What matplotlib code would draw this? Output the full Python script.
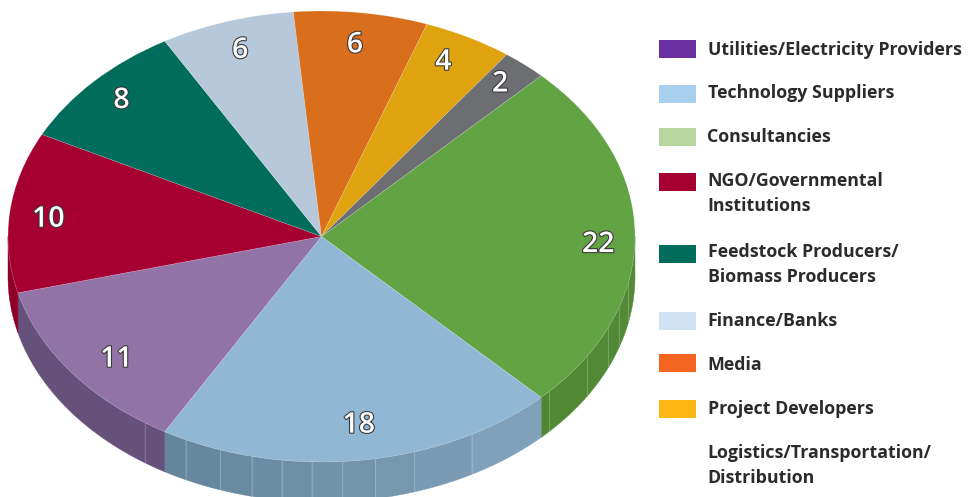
import numpy as np
import matplotlib
matplotlib.use('Agg')
import matplotlib.pyplot as plt
import matplotlib.patheffects as pe
from matplotlib.patches import Rectangle

# slices, clockwise from the big green one
slice_values = [22, 18, 11, 10, 8, 6, 6, 4, 2]
slice_colors = ['#62a344', '#90b8d4', '#9273a6', '#a60033', '#006c5b',
                '#b6c8da', '#d96e1c', '#dfa310', '#6d6e71']
# wall shade at the left / right end of each slice's side
wall_left = ['#4f8733', '#64849a', '#65517a', '#8e0027', '#004f43',
             '#8a98a6', '#a55415', '#a97c0c', '#525355']
wall_right = ['#558b39', '#84a5be', '#65517a', '#8e0027', '#004f43',
              '#8a98a6', '#a55415', '#a97c0c', '#525355']
# light seams on the side wall, degrees on the ellipse
wall_seams = [-124.3, -115.7, -108.8, -102.9, -97.3, -91.8, -86.2, -80.1,
              -72.8, -61.4, -43.4, -32.1, -23.9, -18.4, -12.0]
# hand placement of the numbers, in pixels (right, down)
number_nudge = [(4, 8), (3, -6), (12, 4), (-2, 4), (-2, -1), (1, 1), (-1, 3), (-6, -1), (2, -3)]

legend_labels = ['Utilities/Electricity Providers', 'Technology Suppliers', 'Consultancies',
                 'NGO/Governmental\nInstitutions', 'Feedstock Producers/\nBiomass Producers',
                 'Finance/Banks', 'Media', 'Project Developers',
                 'Logistics/Transportation/\nDistribution']
legend_colors = ['#6a2fa0', '#a6d0ee', '#b6d69e', '#a60033', '#006c5b',
                 '#d0e2f3', '#f56522', '#fdb714', None]
legend_text_y = [50, 93, 137, 193.5, 264.5, 321, 365, 409, 465.5]
legend_box_y = [49, 94, 137, 182, 254, 321, 363, 409, None]

start_angle = 45.5
wall_depth = 40 / 225.5

W, H = 968, 497
fig = plt.figure(figsize=(W / 100, H / 100), dpi=100)
plt.rcParams['font.family'] = ['Open Sans', 'DejaVu Sans']

# pie axes stretched so the circle comes out as the flattened ellipse
ax = fig.add_axes([8 / W, (H - 462) / H, 627 / W, 451 / H])
wedges, _, numbers = ax.pie(
    slice_values, startangle=start_angle, counterclock=False, colors=slice_colors,
    autopct=lambda p: f'{p * sum(slice_values) / 100:.0f}', pctdistance=0.87,
    wedgeprops={'edgecolor': (1, 1, 1, 0.2), 'linewidth': 0.5, 'zorder': 3},
)
ax.set_aspect('auto')
ax.set_xlim(-1, 1)
ax.set_ylim(-1, 1)

for t, (dx, dy) in zip(numbers, number_nudge):
    x, y = t.get_position()
    t.set_position((x + dx / 313.5, y - dy / 225.5))
    t.set(color='white', fontsize=20.5, fontweight='semibold', zorder=5)
    t.set_path_effects([pe.withStroke(linewidth=1.6, foreground='#3a3a3c')])


def blend(c1, c2, f):
    a, b = np.array(matplotlib.colors.to_rgb(c1)), np.array(matplotlib.colors.to_rgb(c2))
    return a + (b - a) * f


# side wall, only the lower half of the ellipse shows
for w, cl, cr in zip(wedges, wall_left, wall_right):
    lo, hi = w.theta1 % 360, w.theta2 % 360
    if hi <= lo:
        hi += 360
    lo, hi = max(lo, 180), min(hi, 360)
    if hi <= lo:
        continue
    cuts = [lo] + [s + 360 for s in wall_seams if lo < s + 360 < hi] + [hi]
    for a, b in zip(cuts[:-1], cuts[1:]):
        th = np.radians(np.linspace(a, b, 30))
        x = np.cos(th)
        y = np.sin(th)
        col = blend(cl, cr, ((a + b) / 2 - lo) / (hi - lo))
        ax.fill(np.r_[x, x[::-1]], np.r_[y, y[::-1] - wall_depth], color=col,
                lw=0.3, zorder=1, clip_on=False)

for s in wall_seams:
    th = np.radians(s)
    ax.plot([np.cos(th)] * 2, [np.sin(th), np.sin(th) - wall_depth],
            color=(1, 1, 1, 0.18), lw=0.8, zorder=2, clip_on=False)

# legend in pixel coordinates
lax = fig.add_axes([0, 0, 1, 1])
lax.set_xlim(0, W)
lax.set_ylim(H, 0)
lax.axis('off')
lax.patch.set_alpha(0)
for label, col, ty, by in zip(legend_labels, legend_colors, legend_text_y, legend_box_y):
    if col is not None:
        lax.add_patch(Rectangle((659, by - 9), 37, 18, color=col, lw=0))
    lax.text(707.5, ty, label, fontsize=12.8, fontweight='bold', color='#2b2a2c',
             va='center', ha='left', linespacing=1.55)

fig.savefig('out.png', dpi=100)
